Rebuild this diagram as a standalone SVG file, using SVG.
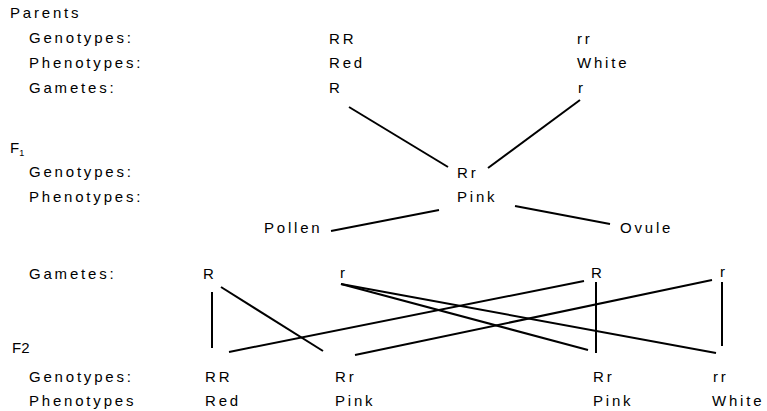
<svg xmlns="http://www.w3.org/2000/svg" width="767" height="411" viewBox="0 0 767 411">
<style>
text{font-family:"Liberation Sans",Arial,sans-serif;font-size:15px;fill:#000;letter-spacing:2.8px}
.ns{letter-spacing:0}
.sub{font-size:9px;letter-spacing:0}
line{stroke:#000;stroke-width:2;stroke-linecap:butt}
</style>
<rect width="767" height="411" fill="#fff"/>
<g id="labels">
<text x="10" y="18">Parents</text>
<text x="29" y="43">Genotypes:</text>
<text x="29" y="68">Phenotypes:</text>
<text x="29" y="93">Gametes:</text>
<text x="10" y="153" class="ns">F<tspan class="sub" dy="3">1</tspan></text>
<text x="29" y="177">Genotypes:</text>
<text x="29" y="202">Phenotypes:</text>
<text x="29" y="279">Gametes:</text>
<text x="12" y="353" class="ns">F2</text>
<text x="29" y="382">Genotypes:</text>
<text x="29" y="406">Phenotypes</text>
</g>
<g id="parent-red"><text x="329" y="44">RR</text><text x="329" y="68">Red</text><text x="329" y="93">R</text></g>
<g id="parent-white"><text x="577" y="44">rr</text><text x="577" y="68">White</text><text x="578" y="93">r</text></g>
<g id="f1"><text x="457" y="178">Rr</text><text x="457" y="202">Pink</text></g>
<g id="pollen"><text x="264" y="233">Pollen</text></g>
<g id="ovule"><text x="620" y="233">Ovule</text></g>
<g id="gamete-R1"><text x="203" y="279">R</text></g>
<g id="gamete-r1"><text x="340" y="278">r</text></g>
<g id="gamete-R2"><text x="591" y="278">R</text></g>
<g id="gamete-r2"><text x="720" y="277">r</text></g>
<g id="f2-RR"><text x="205" y="382">RR</text><text x="205" y="406">Red</text></g>
<g id="f2-Rr1"><text x="335" y="382">Rr</text><text x="335" y="406">Pink</text></g>
<g id="f2-Rr2"><text x="593" y="382">Rr</text><text x="593" y="406">Pink</text></g>
<g id="f2-rr"><text x="713" y="382">rr</text><text x="712" y="406">White</text></g>
<g id="connectors">
<line x1="349" y1="107" x2="448" y2="167"/>
<line x1="580" y1="100" x2="488" y2="168"/>
<line x1="331" y1="231" x2="439" y2="210"/>
<line x1="515" y1="206" x2="610" y2="224"/>
<line x1="212" y1="292" x2="212" y2="348"/>
<line x1="221" y1="287" x2="323" y2="351"/>
<line x1="229" y1="352" x2="584" y2="281"/>
<line x1="355" y1="355" x2="712" y2="280"/>
<line x1="341" y1="284" x2="588" y2="350"/>
<line x1="341" y1="284" x2="716" y2="353"/>
<line x1="596" y1="282" x2="596" y2="353"/>
<line x1="722" y1="282" x2="722" y2="346"/>
</g>
</svg>
